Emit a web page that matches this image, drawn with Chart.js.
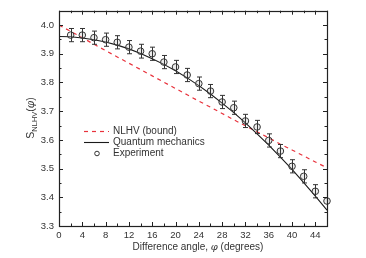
<!DOCTYPE html>
<html>
<head>
<meta charset="utf-8">
<script src="https://cdn.jsdelivr.net/npm/chart.js@4.4.0/dist/chart.umd.min.js"></script>
<style>
  html, body { margin: 0; padding: 0; background: #fff; }
  #wrap { width: 366px; height: 258px; }
</style>
</head>
<body>
<div id="wrap"><canvas id="chart"></canvas></div>
<script>
// theory curves, sampled every 2 degrees
const angles = [0, 2, 4, 6, 8, 10, 12, 14, 16, 18, 20, 22, 24, 26, 28, 30, 32, 34, 36, 38, 40, 42, 44, 46];
const nlhvBound = [4.000, 3.978, 3.956, 3.933, 3.911, 3.889, 3.867, 3.845, 3.823, 3.801, 3.779, 3.757,
                   3.735, 3.714, 3.692, 3.670, 3.649, 3.628, 3.607, 3.585, 3.565, 3.544, 3.523, 3.503];
const quantum = [3.960, 3.959, 3.955, 3.949, 3.941, 3.930, 3.917, 3.901, 3.883, 3.863, 3.841, 3.816,
                 3.789, 3.760, 3.728, 3.695, 3.659, 3.621, 3.582, 3.540, 3.497, 3.451, 3.404, 3.355];

// measured points
const expAngles = [2, 4, 6, 8, 10, 12, 14, 16, 18, 20, 22, 24, 26, 28, 30, 32, 34, 36, 38, 40, 42, 44, 46];
const expValues = [3.965, 3.965, 3.956, 3.949, 3.940, 3.923, 3.909, 3.900, 3.871, 3.854, 3.826, 3.796,
                   3.770, 3.732, 3.712, 3.666, 3.645, 3.598, 3.561, 3.508, 3.473, 3.421, 3.387];
const expErrors = [0.023, 0.023, 0.023, 0.023, 0.023, 0.023, 0.024, 0.023, 0.023, 0.023, 0.023, 0.023,
                   0.023, 0.023, 0.023, 0.023, 0.023, 0.023, 0.023, 0.023, 0.023, 0.023, 0.023];

const seriesNames = ["NLHV (bound)", "Quantum mechanics", "Experiment"];

const FONT = "'Liberation Sans', Arial, sans-serif";
const INK = "#222";

const toXY = (xs, ys) => xs.map((x, i) => ({ x: x, y: ys[i] }));

// error bars, inward ticks and the frame
const framePlugin = {
  id: "frame",
  afterDatasetsDraw(chart) {
    const { ctx, chartArea: a, scales: { x, y } } = chart;
    ctx.save();
    ctx.strokeStyle = "#333";
    ctx.lineWidth = 1;
    ctx.beginPath();
    expAngles.forEach((ang, i) => {
      const px = Math.round(x.getPixelForValue(ang)) + 0.5;
      if (px > a.right - 1) return;
      const top = y.getPixelForValue(expValues[i] + expErrors[i]);
      const bot = y.getPixelForValue(expValues[i] - expErrors[i]);
      ctx.moveTo(px, top); ctx.lineTo(px, bot);
      ctx.moveTo(px - 2.5, top); ctx.lineTo(px + 2.5, top);
      ctx.moveTo(px - 2.5, bot); ctx.lineTo(px + 2.5, bot);
    });
    ctx.stroke();

    ctx.strokeStyle = INK;
    ctx.beginPath();
    x.ticks.forEach(t => {
      const px = Math.round(x.getPixelForValue(t.value)) + 0.5;
      const len = t.value % 4 === 0 ? 4 : 2.5;
      ctx.moveTo(px, a.bottom); ctx.lineTo(px, a.bottom - len);
      ctx.moveTo(px, a.top); ctx.lineTo(px, a.top + len);
    });
    y.ticks.forEach(t => {
      const py = Math.round(y.getPixelForValue(t.value)) + 0.5;
      const len = Math.round(t.value * 100) % 10 === 0 ? 4 : 2.5;
      ctx.moveTo(a.left, py); ctx.lineTo(a.left + len, py);
      ctx.moveTo(a.right, py); ctx.lineTo(a.right - len, py);
    });
    ctx.stroke();
    ctx.lineWidth = 1.2;
    ctx.strokeRect(Math.round(a.left) + 0.5, Math.round(a.top) + 0.5,
                   Math.round(a.right - a.left), Math.round(a.bottom - a.top));
    ctx.restore();
  }
};

// axis titles with subscript / italic phi, and the boxed-in legend
const textPlugin = {
  id: "texts",
  afterDraw(chart) {
    const ctx = chart.ctx;
    const ds = chart.data.datasets;
    ctx.save();
    ctx.fillStyle = "#333";
    ctx.textBaseline = "alphabetic";

    // y title: S_NLHV(phi)
    ctx.translate(34, 118);
    ctx.rotate(-Math.PI / 2);
    const big = "10.5px " + FONT, small = "7.5px " + FONT, ital = "italic 10.5px 'DejaVu Serif', serif";
    ctx.font = big; const wS = ctx.measureText("S").width;
    ctx.font = small; const wSub = ctx.measureText("NLHV").width;
    ctx.font = big; const wP = ctx.measureText("(").width;
    ctx.font = ital; const wPhi = ctx.measureText("\u03c6").width;
    let cx = -(wS + wSub + wP * 2 + wPhi) / 2;
    ctx.textAlign = "left";
    ctx.font = big; ctx.fillText("S", cx, 0); cx += wS;
    ctx.font = small; ctx.fillText("NLHV", cx, 2.5); cx += wSub;
    ctx.font = big; ctx.fillText("(", cx, 0); cx += wP;
    ctx.font = ital; ctx.fillText("\u03c6", cx, 0); cx += wPhi;
    ctx.font = big; ctx.fillText(")", cx, 0);
    ctx.setTransform(1, 0, 0, 1, 0, 0);

    // x title
    const pre = "Difference angle, ", post = " (degrees)", xf = "10px " + FONT, xi = "italic 10px 'DejaVu Serif', serif";
    ctx.font = xf; const w1 = ctx.measureText(pre).width, w3 = ctx.measureText(post).width;
    ctx.font = xi; const w2 = ctx.measureText("\u03c6").width;
    let tx = 198 - (w1 + w2 + w3) / 2;
    const ty = 250;
    ctx.font = xf; ctx.fillText(pre, tx, ty); tx += w1;
    ctx.font = xi; ctx.fillText("\u03c6", tx, ty); tx += w2;
    ctx.font = xf; ctx.fillText(post, tx, ty);

    // legend
    const lx = 84, tx0 = 113, rows = [131.5, 142.5, 153.5];
    ctx.font = "10px " + FONT;
    ctx.textBaseline = "middle";
    ds.forEach((d, i) => {
      const ry = rows[i];
      ctx.save();
      if (d.showLine === false) {
        ctx.strokeStyle = d.borderColor; ctx.lineWidth = 1;
        ctx.beginPath(); ctx.arc(97, ry, 2.3, 0, Math.PI * 2); ctx.stroke();
      } else {
        ctx.strokeStyle = d.borderColor; ctx.lineWidth = d.borderWidth;
        ctx.setLineDash(d.borderDash || []);
        ctx.beginPath(); ctx.moveTo(lx, ry); ctx.lineTo(lx + 25, ry); ctx.stroke();
      }
      ctx.restore();
      ctx.fillStyle = "#333";
      ctx.fillText(d.label, tx0, ry);
    });
    ctx.restore();
  }
};

new Chart(document.getElementById("chart"), {
  type: "scatter",
  data: {
    datasets: [
      {
        label: seriesNames[0],
        data: toXY(angles, nlhvBound),
        showLine: true,
        borderColor: "#e8323c",
        borderWidth: 1.2,
        borderDash: [4, 4],
        pointRadius: 0,
        order: 3
      },
      {
        label: seriesNames[1],
        data: toXY(angles, quantum),
        showLine: true,
        borderColor: "#1a1a1a",
        borderWidth: 1.1,
        pointRadius: 0,
        order: 2
      },
      {
        label: seriesNames[2],
        data: toXY(expAngles, expValues),
        showLine: false,
        borderColor: "#333",
        backgroundColor: "rgba(180,180,180,0.25)",
        pointRadius: 3.3,
        pointBorderWidth: 1,
        clip: 6,
        order: 1
      }
    ]
  },
  options: {
    responsive: true,
    maintainAspectRatio: false,
    animation: false,
    layout: { padding: { left: 0, right: 39, top: 10, bottom: 0 } },
    plugins: {
      legend: { display: false },
      tooltip: { enabled: false }
    },
    scales: {
      x: {
        type: "linear",
        min: 0,
        max: 46,
        afterFit: s => { s.height = 32; },
        grid: { display: false, drawTicks: false },
        border: { display: false },
        ticks: {
          stepSize: 2,
          autoSkip: false,
          maxTicksLimit: 100,
          maxRotation: 0,
          padding: 4,
          color: "#333",
          font: { family: FONT, size: 9.5 },
          callback: v => (v % 4 === 0 ? String(v) : "")
        }
      },
      y: {
        min: 3.3,
        max: 4.05,
        afterFit: s => { s.width = 59; },
        grid: { display: false, drawTicks: false },
        border: { display: false },
        ticks: {
          stepSize: 0.05,
          autoSkip: false,
          maxTicksLimit: 100,
          padding: 5,
          color: "#333",
          font: { family: FONT, size: 9.5 },
          callback: v => (Math.round(v * 100) % 10 === 0 ? v.toFixed(1) : "")
        }
      }
    }
  },
  plugins: [framePlugin, textPlugin]
});
</script>
</body>
</html>
